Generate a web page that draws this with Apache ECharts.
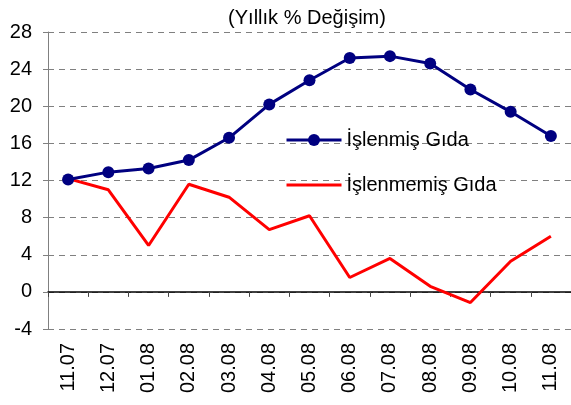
<!DOCTYPE html>
<html>
<head>
<meta charset="utf-8">
<script src="https://cdn.jsdelivr.net/npm/echarts@6/dist/echarts.min.js"></script>
<style>
  html, body { margin: 0; padding: 0; background: #fff; }
  #chart { width: 571px; height: 405px; }
</style>
</head>
<body>
<div id="chart"></div>
<script>
// aylar
var months = ['11.07', '12.07', '01.08', '02.08', '03.08', '04.08', '05.08', '06.08', '07.08', '08.08', '09.08', '10.08', '11.08'];
// yıllık % değişim
var islenmis = [12.1, 12.9, 13.3, 14.2, 16.6, 20.2, 22.8, 25.2, 25.4, 24.6, 21.8, 19.4, 16.8];
var islenmemis = [12.2, 11.0, 5.0, 11.6, 10.2, 6.7, 8.2, 1.55, 3.6, 0.6, -1.15, 3.3, 6.0];
var yMin = -4, yMax = 28, yStep = 4;

var font = 'Liberation Sans, Arial, sans-serif';
var myChart = echarts.init(document.getElementById('chart'));

myChart.setOption({
  animation: false,
  title: {
    text: '(Yıllık % Değişim)',
    left: 302,
    textAlign: 'center',
    top: 3,
    textStyle: { fontFamily: font, fontSize: 20, fontWeight: 'normal', color: '#000' }
  },
  legend: {
    orient: 'vertical',
    left: 280,
    top: 125,
    itemWidth: 55,
    itemHeight: 15,
    itemGap: 25,
    lineStyle: { width: 3 },
    textStyle: { fontFamily: font, fontSize: 20, color: '#000' },
    data: [
      { name: 'İşlenmiş Gıda' },
      { name: 'İşlenmemiş Gıda', itemStyle: { opacity: 0 } }
    ]
  },
  grid: { left: 48, right: 0, top: 32, bottom: 76 },
  xAxis: [
    {
      // alttaki etiketler
      type: 'category',
      data: months,
      position: 'bottom',
      axisLine: { show: false, onZero: false },
      axisTick: { show: false },
      axisLabel: { rotate: 90, margin: 14, fontFamily: font, fontSize: 20, color: '#000' }
    },
    {
      // sıfır çizgisi
      type: 'category',
      data: months,
      position: 'top',
      axisLine: { show: true, onZero: true, lineStyle: { color: '#000', width: 1.5 } },
      axisTick: { show: true, inside: true, length: 5, lineStyle: { color: '#444' } },
      axisLabel: { show: false }
    }
  ],
  yAxis: {
    type: 'value',
    min: yMin,
    max: yMax,
    interval: yStep,
    axisLine: { show: true, lineStyle: { color: '#808080', width: 1 } },
    axisTick: { show: true, length: 5, lineStyle: { color: '#808080' } },
    axisLabel: { margin: 16, fontFamily: font, fontSize: 20, color: '#000' },
    splitLine: { show: true, lineStyle: { color: '#808080', type: [6, 5], width: 1 } }
  },
  series: [
    {
      name: 'İşlenmiş Gıda',
      type: 'line',
      data: islenmis,
      symbol: 'circle',
      symbolSize: 12,
      itemStyle: { color: '#000080' },
      lineStyle: { color: '#000080', width: 3 },
      z: 3
    },
    {
      name: 'İşlenmemiş Gıda',
      type: 'line',
      data: islenmemis,
      symbol: 'none',
      itemStyle: { color: '#FF0000' },
      lineStyle: { color: '#FF0000', width: 3 },
      z: 2
    }
  ]
});
</script>
</body>
</html>
